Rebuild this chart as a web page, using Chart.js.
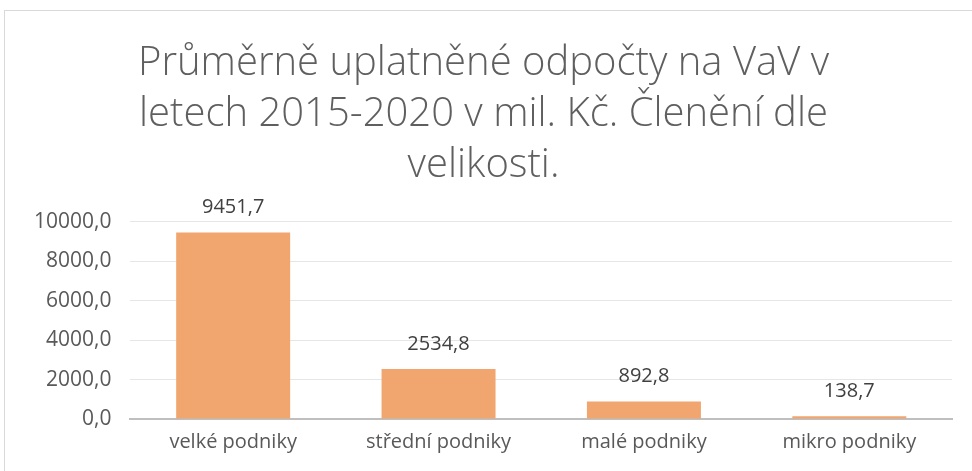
<!DOCTYPE html>
<html>
<head>
<meta charset="utf-8">
<script src="https://cdn.jsdelivr.net/npm/chart.js@4"></script>
<style>
  html, body { margin: 0; padding: 0; background: #fff; overflow: hidden; }
  #ramec { position: absolute; left: 4px; top: 10px; width: 1000px; height: 500px; border: 1px solid #d9d9d9; }
  #graf { position: absolute; left: 0; top: 0; }
</style>
</head>
<body>
<div id="ramec"></div>
<canvas id="graf" width="972" height="471"></canvas>
<script>
const kategorie = ["velké podniky", "střední podniky", "malé podniky", "mikro podniky"];
const odpocty = [9451.7, 2534.8, 892.8, 138.7];
const titulek = ["Průměrně uplatněné odpočty na VaV v", "letech 2015-2020 v mil. Kč. Členění dle", "velikosti."];

const formatCz = v => v.toFixed(1).replace(".", ",");

// popisky hodnot nad sloupci
const popiskyHodnot = {
  id: "popiskyHodnot",
  afterDatasetsDraw(chart) {
    const ctx = chart.ctx;
    const meta = chart.getDatasetMeta(0);
    ctx.save();
    ctx.font = "20px 'Open Sans'";
    ctx.fillStyle = "#404040";
    ctx.textAlign = "center";
    ctx.textBaseline = "alphabetic";
    meta.data.forEach((bar, i) => {
      ctx.fillText(formatCz(odpocty[i]), bar.x, bar.y - 19);
    });
    ctx.restore();
  }
};

const ctx = document.getElementById("graf").getContext("2d");
new Chart(ctx, {
  type: "bar",
  data: {
    labels: kategorie,
    datasets: [{
      data: odpocty,
      backgroundColor: "#f0a66e",
      categoryPercentage: 1,
      barPercentage: 0.555
    }]
  },
  options: {
    responsive: false,
    animation: false,
    layout: { padding: { left: 15, right: 20, top: 38, bottom: 6 } },
    plugins: {
      legend: { display: false },
      tooltip: { enabled: false },
      title: {
        display: true,
        text: titulek,
        color: "#5f5f5f",
        font: { family: "'Open Sans'", size: 40, weight: 300, lineHeight: 1.28 },
        padding: { top: 0, bottom: 30 }
      }
    },
    scales: {
      x: {
        grid: { display: false, drawTicks: false },
        border: { color: "#bfbfbf", width: 2 },
        ticks: { color: "#595959", font: { family: "'Open Sans'", size: 20 }, padding: 11 }
      },
      y: {
        min: 0,
        max: 10000,
        grid: { color: "#e6e6e6", drawTicks: false },
        border: { display: false },
        ticks: {
          stepSize: 2000,
          color: "#595959",
          font: { family: "'Open Sans'", size: 21 },
          padding: 19,
          callback: v => formatCz(v)
        }
      }
    }
  },
  plugins: [popiskyHodnot]
});
</script>
</body>
</html>
